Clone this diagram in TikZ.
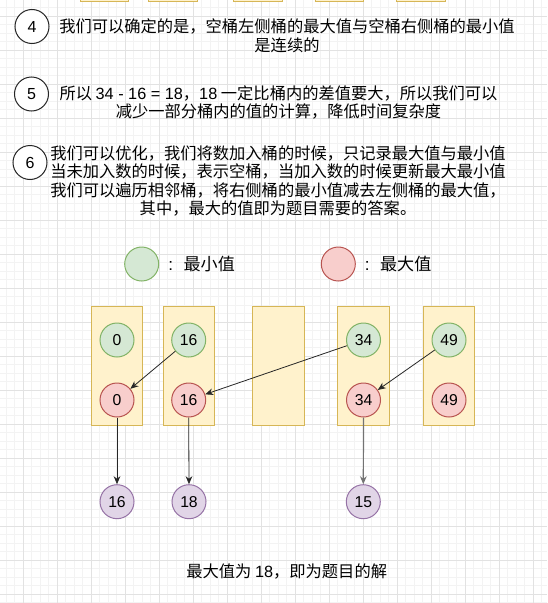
\documentclass[tikz,border=0pt]{standalone}
\usepackage{fontspec}
\setmainfont{Liberation Sans}
\newfontfamily\cjk{Noto Sans CJK SC}
\newcommand\lat[1]{{\rmfamily #1}}
\usetikzlibrary{arrows.meta}
\definecolor{gfill}{HTML}{D5E8D4}\definecolor{gline}{HTML}{82B366}
\definecolor{rfill}{HTML}{F8CECC}\definecolor{rline}{HTML}{B85450}
\definecolor{pfill}{HTML}{E1D5E7}\definecolor{pline}{HTML}{9673A6}
\definecolor{yfill}{HTML}{FFF2CC}\definecolor{yline}{HTML}{D6B656}
\definecolor{gridminor}{HTML}{F3F3F3}\definecolor{gridmajor}{HTML}{E2E2E2}
\begin{document}
\begin{tikzpicture}[x=0.75pt,y=-0.75pt,
  dot/.style={circle,minimum size=25.5pt,inner sep=0pt,line width=0.75pt,font=\fontsize{11.8}{12}\selectfont},
  gdot/.style={dot,draw=gline,fill=gfill},
  rdot/.style={dot,draw=rline,fill=rfill},
  pdot/.style={dot,draw=pline,fill=pfill},
  numdot/.style={dot,draw=black!85,fill=white,font=\fontsize{12}{12}\selectfont},
  bucket/.style={draw=yline,fill=yfill,line width=0.75pt},
  txt/.style={align=center,inner sep=0pt,font=\cjk\fontsize{12.2}{13.9}\selectfont},
  legtxt/.style={inner sep=0pt,font=\cjk\fontsize{12.8}{13.9}\selectfont},
  arr/.style={-{Stealth[length=6pt,width=5pt]},line width=0.6pt,draw=black!85}
]
\useasboundingbox (0,0) rectangle (547,603);
\fill[white] (0,0) rectangle (547,603);
% grid
\foreach \i in {0,...,64} {\draw[gridminor,line width=0.5pt] ({6.3+8.5*\i},0) -- ++(0,603);}
\foreach \i in {0,...,70} {\draw[gridminor,line width=0.5pt] (0,{7.5+8.5*\i}) -- ++(547,0);}
\foreach \i in {0,...,15} {\draw[gridmajor,line width=0.6pt] ({23.3+34*\i},0) -- ++(0,603);}
\foreach \i in {0,...,17} {\draw[gridmajor,line width=0.6pt] (0,{16+34*\i}) -- ++(547,0);}
% cut-off boxes at the top
\foreach \a/\b in {80/128,148/197,233/282,315/363,396/445}
  {\draw[bucket] (\a,-20) rectangle (\b,1);}
% numbered notes
\node[numdot] (n4) at (32,26.5) {4};
\node[txt] (t4) at (287,36) {我们可以确定的是，空桶左侧桶的最大值与空桶右侧桶的最小值\\是连续的};
\node[numdot] (n5) at (31.5,94) {5};
\node[txt] (t5) at (278.5,102.5) {所以 \lat{34 - 16 = 18}，\lat{18} 一定比桶内的差值要大，所以我们可以\\减少一部分桶内的值的计算，降低时间复杂度};
\node[numdot] (n6) at (30,162.5) {6};
\node[txt] (t6) at (278,181) {我们可以优化，我们将数加入桶的时候，只记录最大值与最小值\\当未加入数的时候，表示空桶，当加入数的时候更新最大最小值\\我们可以遍历相邻桶，将右侧桶的最小值减去左侧桶的最大值，\\其中，最大的值即为题目需要的答案。};
% legend
\node[gdot] (lg) at (141.7,264) {};
\node[legtxt,anchor=west] (lgt) at (168,264) {\lat{:}\hspace{8pt}最小值};
\node[rdot] (lr) at (338.3,264) {};
\node[legtxt,anchor=west] (lrt) at (364.5,264) {\lat{:}\hspace{8pt}最大值};
% buckets
\draw[bucket] (91.7,306.7) rectangle (142.3,425);
\draw[bucket] (163.3,306.7) rectangle (214.3,425);
\draw[bucket] (252.7,306.7) rectangle (304,425);
\draw[bucket] (337.7,306.7) rectangle (389.3,425);
\draw[bucket] (423.3,306.7) rectangle (474.3,425);
% values
\node[gdot] (g1) at (117,340) {0};
\node[rdot] (r1) at (117,400) {0};
\node[gdot] (g2) at (188.7,340) {16};
\node[rdot] (r2) at (188.7,400) {16};
\node[gdot] (g4) at (363.5,340) {34};
\node[rdot] (r4) at (363.5,400) {34};
\node[gdot] (g5) at (449,340) {49};
\node[rdot] (r5) at (449,400) {49};
% differences
\node[pdot] (d1) at (117,501.7) {16};
\node[pdot] (d2) at (189,501.7) {18};
\node[pdot] (d4) at (363.3,501.7) {15};
% connectors
\draw[arr] (g2) -- (r1);
\draw[arr] (g4) -- (r2);
\draw[arr] (g5) -- (r4);
\draw[arr] (r1.south) -- (d1.north);
\draw[arr] (r2.south) -- (d2.north);
\draw[arr,draw=black!55,line width=0.9pt] (r4.south) -- (d4.north);
% conclusion
\node[txt] (res) at (286.7,571) {最大值为 \lat{18}，即为题目的解};
\end{tikzpicture}
\end{document}
